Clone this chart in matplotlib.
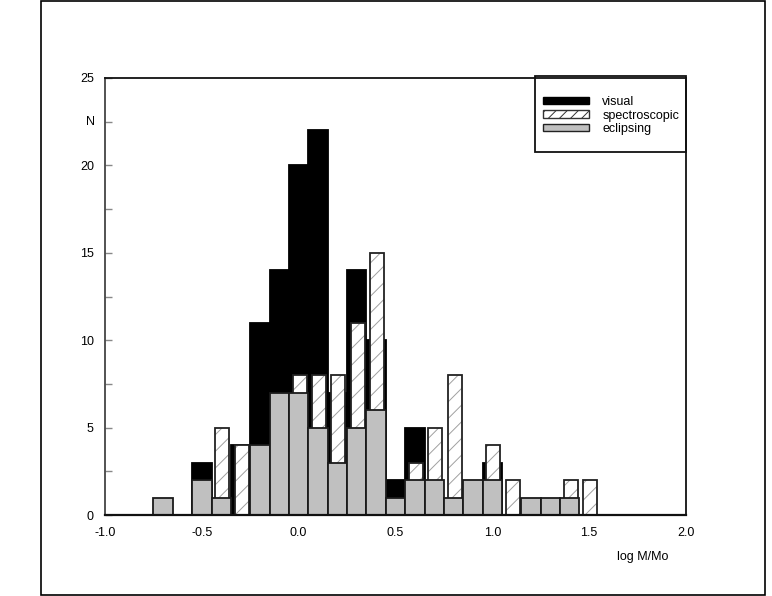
import numpy as np
import matplotlib
matplotlib.use("Agg")
import matplotlib.pyplot as plt
from matplotlib.patches import Rectangle, Patch

plt.rcParams['font.family'] = ['Liberation Sans', 'DejaVu Sans']
plt.rcParams['axes.unicode_minus'] = False
plt.rcParams['hatch.linewidth'] = 0.7

# bin centres (log M/Mo) and counts per bin
bins = [-0.7, -0.6, -0.5, -0.4, -0.3, -0.2, -0.1, 0.0, 0.1, 0.2, 0.3, 0.4,
        0.5, 0.6, 0.7, 0.8, 0.9, 1.0, 1.1, 1.2, 1.3, 1.4, 1.5]
visual = [0, 0, 3, 0, 4, 11, 14, 20, 22, 7, 14, 10, 2, 5, 0, 0, 0, 3, 0, 0, 0, 0, 0]
spectroscopic = [0, 0, 0, 5, 4, 0, 0, 8, 8, 8, 11, 15, 0, 3, 5, 8, 0, 4, 2, 0, 0, 2, 2]
eclipsing = [1, 0, 2, 1, 0, 4, 7, 7, 5, 3, 5, 6, 1, 2, 2, 1, 2, 2, 0, 1, 1, 1, 0]

x = np.array(bins)
fs = 9.0

fig = plt.figure(figsize=(7.72, 5.96), dpi=100)
ax = fig.add_axes([105 / 772, 1 - 515 / 596, 581 / 772, 437 / 596])

# visual (black, behind)
ax.bar(x, visual, width=0.1, color='black', edgecolor='black', linewidth=1.3, zorder=2)
# spectroscopic (hatched, narrower)
xs = x + 0.005
ax.bar(xs, spectroscopic, width=0.072, color='white', edgecolor='#a0a0a0',
       hatch='//', linewidth=0, zorder=3)
ax.bar(xs, spectroscopic, width=0.072, fill=False, edgecolor='#222222',
       linewidth=1.3, zorder=3.1)
# eclipsing (gray, front)
ax.bar(x, eclipsing, width=0.1, color='#c0c0c0', edgecolor='#1a1a1a',
       linewidth=1.3, zorder=4)

ax.set_xlim(-1.0, 2.0)
ax.set_ylim(0, 25)
ax.set_xticks(np.arange(-1.0, 2.01, 0.5))
ax.set_xticklabels(['%.1f' % v for v in np.arange(-1.0, 2.01, 0.5)], fontsize=fs)
ax.set_yticks(np.arange(0, 26, 5))
ax.set_yticklabels([str(v) for v in range(0, 26, 5)], fontsize=fs)
ax.set_yticks(np.arange(2.5, 25, 5), minor=True)
ax.tick_params(axis='x', length=0, pad=9)
ax.tick_params(axis='y', which='both', direction='in', length=5, color='#888888',
               width=1, pad=8)
for s in ax.spines.values():
    s.set_linewidth(1.3)
    s.set_color('#111111')
ax.spines['left'].set_color('#444444')
ax.spines['bottom'].set_zorder(5)
ax.spines['bottom'].set_linewidth(1.6)

fig.text(90.5 / 772, 1 - 122 / 596, 'N', fontsize=fs, ha='center', va='center')
fig.text(643 / 772, 1 - 557 / 596, 'log M/Mo', fontsize=fs, ha='center', va='center')

# legend
handles = [Patch(facecolor='black', edgecolor='black', linewidth=1.0),
           Patch(facecolor='white', edgecolor='#333333', hatch='///', linewidth=1.0),
           Patch(facecolor='#c0c0c0', edgecolor='#222222', linewidth=1.0)]
labels = ['visual', 'spectroscopic', 'eclipsing']
leg = fig.legend(handles, labels, loc='upper left',
                 bbox_to_anchor=(543 / 772, 1 - 96 / 596), frameon=False,
                 fontsize=fs, handlelength=3.7, handleheight=0.55,
                 handletextpad=1.05, labelspacing=0.12, borderpad=0,
                 borderaxespad=0)
fig.add_artist(Rectangle((535 / 772, 1 - 152 / 596), 151 / 772, 76 / 596,
                         transform=fig.transFigure, fill=False,
                         edgecolor='#111111', linewidth=1.3, zorder=6))

# outer frame
fig.add_artist(Rectangle((41 / 772, 1 / 596), 724 / 772, 594.5 / 596,
                         transform=fig.transFigure, fill=False,
                         edgecolor='black', linewidth=1.2))

fig.savefig('out.png', dpi=100)
